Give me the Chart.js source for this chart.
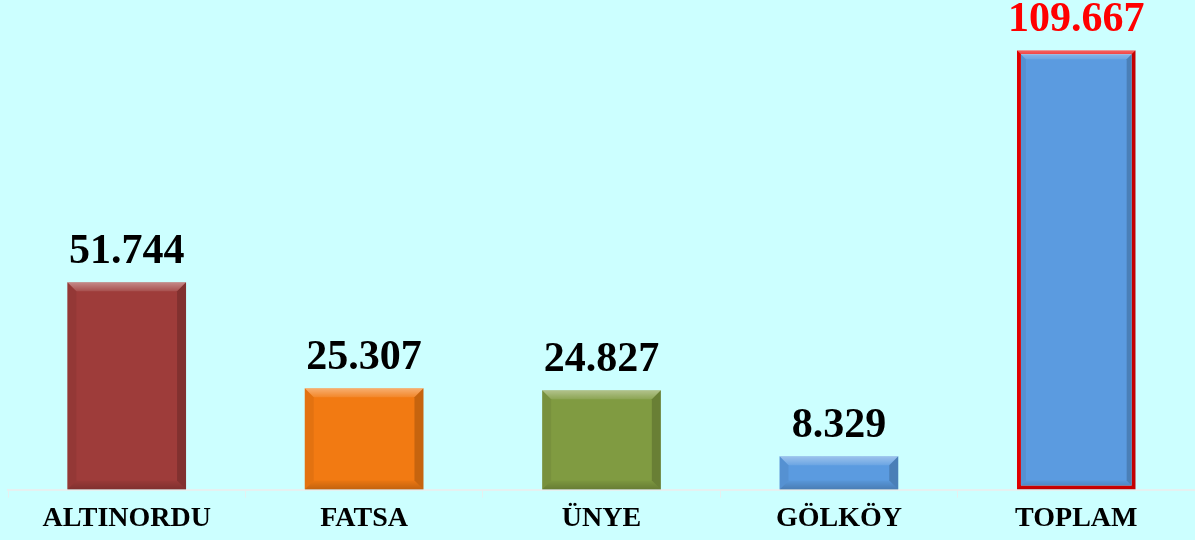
<!DOCTYPE html>
<html>
<head>
<meta charset="utf-8">
<script src="https://cdn.jsdelivr.net/npm/chart.js@4/dist/chart.umd.min.js"></script>
<style>
    html, body { margin: 0; padding: 0; background: #ccffff; }
    #wrap { width: 1195px; height: 540px; }
</style>
</head>
<body>
<div id="wrap"><canvas id="chart"></canvas></div>
<script>
let categories = ['ALTINORDU', 'FATSA', 'ÜNYE', 'GÖLKÖY', 'TOPLAM'];
let values = [51.744, 25.307, 24.827, 8.329, 109.667];
let barColors = ['#9e3c3a', '#f27a12', '#809b41', '#5b9be0', '#5b9be0'];
let labelColors = ['#000000', '#000000', '#000000', '#000000', '#ff0000'];

// bevel shading on the edges of each bar
let bevelPlugin = {
    id: 'bevel',
    afterDatasetsDraw: chart => {
        let ctx = chart.ctx;
        let meta = chart.getDatasetMeta(0);
        meta.data.forEach(bar => {
            let left = bar.x - bar.width / 2;
            let right = bar.x + bar.width / 2;
            let top = Math.min(bar.y, bar.base);
            let bottom = Math.max(bar.y, bar.base);
            let b = Math.min(9, (bottom - top) / 3);

            ctx.save();
            // top edge, light
            let g = ctx.createLinearGradient(0, top, 0, top + b);
            g.addColorStop(0, 'rgba(255,255,255,0.4)');
            g.addColorStop(1, 'rgba(255,255,255,0.1)');
            ctx.fillStyle = g;
            ctx.beginPath();
            ctx.moveTo(left, top);
            ctx.lineTo(right, top);
            ctx.lineTo(right - b, top + b);
            ctx.lineTo(left + b, top + b);
            ctx.closePath();
            ctx.fill();

            // bottom edge, dark
            g = ctx.createLinearGradient(0, bottom - b, 0, bottom);
            g.addColorStop(0, 'rgba(0,0,0,0.03)');
            g.addColorStop(1, 'rgba(0,0,0,0.2)');
            ctx.fillStyle = g;
            ctx.beginPath();
            ctx.moveTo(left, bottom);
            ctx.lineTo(right, bottom);
            ctx.lineTo(right - b, bottom - b);
            ctx.lineTo(left + b, bottom - b);
            ctx.closePath();
            ctx.fill();

            // left side
            ctx.fillStyle = 'rgba(0,0,0,0.06)';
            ctx.beginPath();
            ctx.moveTo(left, top);
            ctx.lineTo(left + b, top + b);
            ctx.lineTo(left + b, bottom - b);
            ctx.lineTo(left, bottom);
            ctx.closePath();
            ctx.fill();

            // right side
            ctx.fillStyle = 'rgba(0,0,0,0.18)';
            ctx.beginPath();
            ctx.moveTo(right, top);
            ctx.lineTo(right - b, top + b);
            ctx.lineTo(right - b, bottom - b);
            ctx.lineTo(right, bottom);
            ctx.closePath();
            ctx.fill();
            ctx.restore();
        });
    }
};

// value above each bar
let valueLabels = {
    id: 'valueLabels',
    afterDatasetsDraw: chart => {
        let ctx = chart.ctx;
        let meta = chart.getDatasetMeta(0);
        ctx.save();
        ctx.font = 'bold 42px "Liberation Serif", "Times New Roman", serif';
        ctx.textAlign = 'center';
        ctx.textBaseline = 'alphabetic';
        meta.data.forEach((bar, i) => {
            ctx.fillStyle = labelColors[i];
            ctx.fillText(values[i].toFixed(3), bar.x, bar.y - 19);
        });
        ctx.restore();
    }
};

new Chart(document.getElementById('chart'), {
    type: 'bar',
    data: {
        labels: categories,
        datasets: [{
            data: values,
            backgroundColor: barColors,
            borderColor: ['rgba(0,0,0,0)', 'rgba(0,0,0,0)', 'rgba(0,0,0,0)', 'rgba(0,0,0,0)', '#ee0000'],
            borderWidth: [0, 0, 0, 0, 4],
            borderSkipped: false,
            categoryPercentage: 1,
            barPercentage: 0.5
        }]
    },
    plugins: [bevelPlugin, valueLabels],
    options: {
        responsive: true,
        maintainAspectRatio: false,
        animation: false,
        layout: {
            padding: {left: 8, right: 0, top: 0, bottom: 1}
        },
        plugins: {
            legend: {display: false},
            tooltip: {enabled: false}
        },
        scales: {
            x: {
                offset: true,
                grid: {
                    display: true,
                    drawOnChartArea: false,
                    color: '#e6f0f0',
                    tickLength: 8,
                    offset: true
                },
                border: {display: true, color: '#e6f0f0', width: 2},
                ticks: {
                    color: '#000000',
                    padding: 6,
                    font: {family: '"Liberation Serif", "Times New Roman", serif', size: 28, weight: 'bold', lineHeight: 1.05}
                }
            },
            y: {
                display: false,
                min: 0,
                max: 122.2
            }
        }
    }
});
</script>
</body>
</html>
